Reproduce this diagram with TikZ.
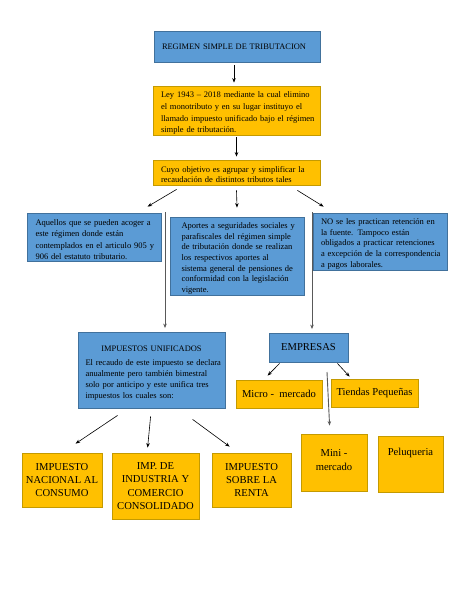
\documentclass[tikz,border=0pt]{standalone}
\usepackage{fontspec}
\setmainfont{Liberation Serif}
\usetikzlibrary{arrows.meta,calc}
\definecolor{bfill}{HTML}{5B9BD5}
\definecolor{bline}{HTML}{41719C}
\definecolor{ofill}{HTML}{FFC000}
\definecolor{oline}{HTML}{C49A00}
\newcommand{\J}[1]{\par\hbox to\hsize{#1}}
\begin{document}
\begin{tikzpicture}[x=1pt,y=-1pt,
 bbox/.style={draw=bline,fill=bfill,line width=0.8pt,inner sep=0pt},
 obox/.style={draw=oline,fill=ofill,line width=0.8pt,inner sep=0pt},
 small/.style={font=\fontsize{8.5}{#1}\selectfont},
 big/.style={font=\fontsize{10.6}{13.3}\selectfont,align=center},
 arr/.style={-{Stealth[length=4.5pt,width=3.5pt]},line width=0.6pt,black},
 longarr/.style={-{Stealth[length=4.5pt,width=3.5pt]},line width=0.9pt,black!65}]
\path[fill=white] (0,0) rectangle (474,613);

% top chain
\node[bbox,minimum width=166,minimum height=31,text width=150,font=\fontsize{8.4}{10}\selectfont] (reg) at (237,46.5) {REGIMEN SIMPLE DE TRIBUTACION};
\node[obox,minimum width=167,minimum height=49,text width=151,small=11.7] (ley) at (236.5,110.5) {%
\J{Ley 1943 – 2018 mediante la cual elimino}%
\J{el monotributo y en su lugar instituyo el}%
\J{llamado impuesto unificado bajo el régimen}%
\J{simple de tributación.\hfil}};
\node[obox,minimum width=167,minimum height=25,text width=151,small=10.2] (cuyo) at (236.5,172.5) {%
\J{Cuyo objetivo es agrupar y simplificar la}%
\J{recaudación de distintos tributos tales}};

% second row
\node[bbox,minimum width=134,minimum height=48,text width=117,small=11.3] (aque) at (94,237) {%
\J{Aquellos que se pueden acoger a}%
\J{este régimen donde están}%
\J{contemplados en el articulo 905 y}%
\J{906 del estatuto tributario.\hfil}};
\node[bbox,minimum width=134,minimum height=78,text width=111,small=10.7] (apor) at (237,256) {%
\J{Aportes a seguridades sociales y}%
\J{parafiscales del régimen simple}%
\J{de tributación donde se realizan}%
\J{los respectivos aportes al}%
\J{sistema general de pensiones de}%
\J{conformidad con la legislación}%
\J{vigente.\hfil}};
\node[bbox,minimum width=134,minimum height=57,text width=118,small=10.6] (nose) at (380,241.5) {%
\J{NO se les practican retención en}%
\J{la fuente. Tampoco están}%
\J{obligados a practicar retenciones}%
\J{a excepción de la correspondencia}%
\J{a pagos laborales.\hfil}};

% third row
\node[bbox,minimum width=147,minimum height=76,text width=132,small=11] (imp) at (151.5,370) {%
\J{\hfil\fontsize{8.4}{11}\selectfont IMPUESTOS UNIFICADOS\hfil}\vskip3pt
\J{El recaudo de este impuesto se declara}%
\J{anualmente pero también bimestral}%
\J{solo por anticipo y este unifica tres}%
\J{impuestos los cuales son:\hfil}};
\node[bbox,minimum width=79,minimum height=29,font=\fontsize{10.6}{13}\selectfont] (emp) at (308.5,347.5) {EMPRESAS};
\node[obox,minimum width=86,minimum height=28,font=\fontsize{10.6}{13}\selectfont] (micro) at (279,394) {Micro -\ \ mercado};
\node[obox,minimum width=87,minimum height=28,font=\fontsize{10.6}{13}\selectfont] (tiendas) at (374.5,393) {Tiendas Pequeñas};

% bottom row
\node[obox,big,minimum width=80,minimum height=54] (inac) at (62,480) {IMPUESTO\\NACIONAL AL\\CONSUMO};
\node[obox,big,minimum width=87,minimum height=66] (iind) at (155.5,486) {IMP. DE\\INDUSTRIA Y\\COMERCIO\\CONSOLIDADO};
\node[obox,big,minimum width=79,minimum height=54] (iren) at (251.5,480) {IMPUESTO\\SOBRE LA\\RENTA};
\node[obox,minimum width=66,minimum height=57] (mini) at (334,462.5) {};
\node[big] (minit) at (334,460) {Mini -\\mercado};
\node[obox,minimum width=65,minimum height=56] (pelu) at (410.5,464) {};
\node[big] (pelut) at (410.5,453) {Peluqueria};

% connectors
\draw[arr,shorten <=2.5pt,shorten >=3pt] ([xshift=-3pt]reg.south) -- ([xshift=-3pt]reg.south |- ley.north);
\draw[arr,shorten <=2pt,shorten >=3pt] (ley.south) -- (cuyo.north);
\draw[arr] ($(cuyo.south west)+(24,4)$) -- ($(aque.north west)+(121,-6)$);
\draw[arr] ($(cuyo.south)+(0,5)$) -- ($(apor.north)+(0,-9)$);
\draw[arr] ($(cuyo.south east)+(-23,5)$) -- ($(nose.north west)+(11,-6)$);

\coordinate (c1) at (165,212);
\coordinate (c2) at (312,212);
\coordinate (c3) at (327,372);
\draw[longarr,shorten >=3.5pt] (c1) -- (c1 |- imp.north);
\draw[longarr,shorten >=3.5pt] (c2) -- (c2 |- emp.north);
\draw[longarr] (c3) -- ($(mini.north west)+(29,-8)$);

\draw[arr] ($(emp.south west)+(11,1)$) -- ($(micro.north west)+(32,-4)$);
\draw[arr] ($(emp.south east)+(-11,1)$) -- ($(tiendas.north west)+(19,-2)$);
\draw[arr] ($(imp.south west)+(40,7)$) -- ($(inac.north west)+(54,-9)$);
\draw[arr] ($(imp.south west)+(73,8)$) -- ($(iind.north west)+(36,-5)$);
\draw[arr] ($(imp.south west)+(115,11)$) -- ($(iren.north west)+(18,-6)$);
\end{tikzpicture}
\end{document}
